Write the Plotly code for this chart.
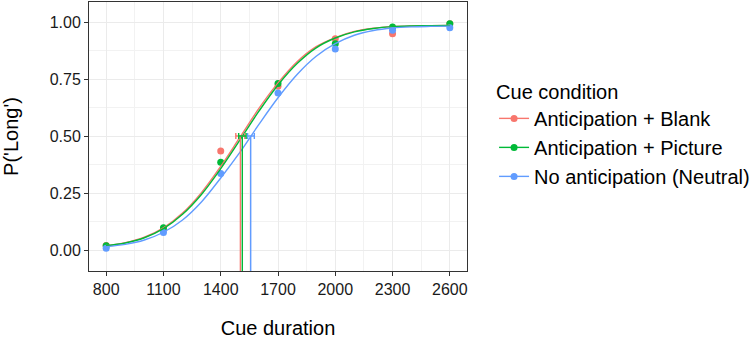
import plotly.graph_objects as go

# ---- data ----
conditions = ["Anticipation + Blank", "Anticipation + Picture", "No anticipation (Neutral)"]
colors = ["#F8766D", "#00BA38", "#619CFF"]

cue_durations = [800, 1100, 1400, 1700, 2000, 2300, 2600]
p_long_blank = [0.020, 0.090, 0.434, 0.718, 0.927, 0.949, 0.993]
p_long_picture = [0.019, 0.098, 0.385, 0.730, 0.905, 0.978, 0.993]
p_long_neutral = [0.008, 0.077, 0.336, 0.689, 0.882, 0.964, 0.975]

# fitted psychometric curves (read at 100 ms steps)
curve_x = [800, 900, 1000, 1100, 1200, 1300, 1400, 1500, 1600, 1700,
           1800, 1900, 2000, 2100, 2200, 2300, 2400, 2500, 2600]
curve_blank = [0.019, 0.032, 0.056, 0.097, 0.162, 0.253, 0.367, 0.494, 0.621, 0.733,
               0.826, 0.892, 0.932, 0.959, 0.973, 0.980, 0.983, 0.984, 0.985]
curve_picture = [0.019, 0.031, 0.054, 0.094, 0.157, 0.245, 0.357, 0.482, 0.609, 0.724,
                 0.818, 0.887, 0.930, 0.957, 0.972, 0.980, 0.983, 0.984, 0.985]
curve_neutral = [0.015, 0.025, 0.044, 0.078, 0.132, 0.212, 0.316, 0.428, 0.551, 0.668,
                 0.770, 0.850, 0.905, 0.942, 0.963, 0.974, 0.979, 0.981, 0.982]

# points of subjective equality with confidence limits
pse = [1503, 1513, 1557]
pse_low = [1479, 1494, 1541]
pse_high = [1526, 1533, 1576]
pse_level = 0.5

x_ticks = [800, 1100, 1400, 1700, 2000, 2300, 2600]
x_minor = [950, 1250, 1550, 1850, 2150, 2450]
y_ticks = [0.0, 0.25, 0.5, 0.75, 1.0]
y_ticklabels = ["0.00", "0.25", "0.50", "0.75", "1.00"]
y_minor = [0.125, 0.375, 0.625, 0.875]

points = [p_long_blank, p_long_picture, p_long_neutral]
curves = [curve_blank, curve_picture, curve_neutral]

FONT = "Liberation Sans, Arial, sans-serif"
fig = go.Figure()

# observed points
for name, col, ys in zip(conditions, colors, points):
    fig.add_trace(go.Scatter(x=cue_durations, y=ys, mode="markers",
                             marker=dict(color=col, size=7), showlegend=False,
                             hoverinfo="skip"))
# fitted curves
for name, col, ys in zip(conditions, colors, curves):
    fig.add_trace(go.Scatter(x=curve_x, y=ys, mode="lines",
                             line=dict(color=col, width=1.4, shape="spline", smoothing=1.0),
                             showlegend=False, hoverinfo="skip"))
# vertical PSE lines
for name, col, p in zip(conditions, colors, pse):
    fig.add_trace(go.Scatter(x=[p, p], y=[pse_level, -0.2], mode="lines",
                             line=dict(color=col, width=1.4), showlegend=False,
                             hoverinfo="skip"))
# horizontal CI error bars at 0.5
for name, col, p, lo, hi in zip(conditions, colors, pse, pse_low, pse_high):
    fig.add_trace(go.Scatter(x=[p], y=[pse_level], mode="markers",
                             marker=dict(color=col, size=1, opacity=0),
                             error_x=dict(type="data", symmetric=False,
                                          array=[hi - p], arrayminus=[p - lo],
                                          color=col, thickness=1.4, width=3),
                             showlegend=False, hoverinfo="skip"))
# legend entries
for name, col in zip(conditions, colors):
    fig.add_trace(go.Scatter(x=[None], y=[None], mode="lines+markers", name=name,
                             marker=dict(color=col, size=7),
                             line=dict(color=col, width=1.4)))

axis_common = dict(showline=True, mirror=True, linecolor="#333333", linewidth=1,
                   ticks="outside", ticklen=4, tickcolor="#333333", tickwidth=1,
                   showgrid=True, gridcolor="#EBEBEB", gridwidth=1, zeroline=False,
                   tickfont=dict(family=FONT, size=16, color="#1A1A1A"))

fig.update_layout(
    width=752, height=339,
    margin=dict(l=89, r=285, t=2, b=68),
    paper_bgcolor="white", plot_bgcolor="white",
    font=dict(family=FONT, color="black"),
    xaxis=dict(range=[710, 2690], tickvals=x_ticks,
               ticktext=[str(v) for v in x_ticks],
               minor=dict(tickvals=x_minor, showgrid=True, gridcolor="#F2F2F2",
                          gridwidth=0.6, ticks=""),
               title=dict(text="Cue duration", font=dict(family=FONT, size=20),
                          standoff=23),
               **axis_common),
    yaxis=dict(range=[-0.092, 1.088], tickvals=y_ticks, ticktext=y_ticklabels,
               minor=dict(tickvals=y_minor, showgrid=True, gridcolor="#F2F2F2",
                          gridwidth=0.6, ticks=""),
               title=dict(text="P('Long')", font=dict(family=FONT, size=20),
                          standoff=28),
               **axis_common),
    legend=dict(title=dict(text="Cue condition", font=dict(family=FONT, size=20)),
                font=dict(family=FONT, size=20),
                xref="container", yref="container",
                x=0.657, xanchor="left", y=0.785, yanchor="top",
                itemwidth=30, bgcolor="rgba(0,0,0,0)"),
)

fig.write_html("out.html", config={"displayModeBar": False},
               post_script="document.body.style.margin='0px';")
